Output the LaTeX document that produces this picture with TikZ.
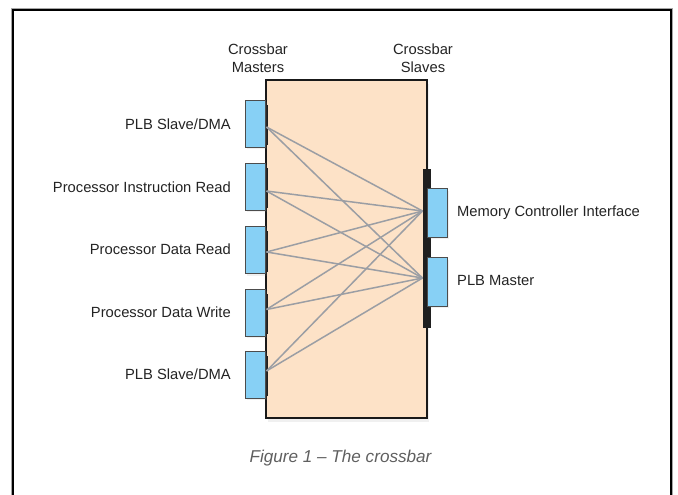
\documentclass[tikz,border=0pt]{standalone}
\usepackage{fontspec}
\setmainfont{Liberation Sans}
\usetikzlibrary{shadows}
\definecolor{peach}{RGB}{253,226,199}
\definecolor{portblue}{RGB}{135,208,245}
\definecolor{wire}{RGB}{155,158,164}
\definecolor{labelgray}{RGB}{35,35,35}
\definecolor{captiongray}{RGB}{95,95,95}
\begin{document}
\begin{tikzpicture}[x=1bp,y=-1bp,
  lbl/.style={font=\fontsize{14.8}{18}\selectfont, text=labelgray, inner sep=0pt},
  port/.style={draw=black!70, line width=1bp, fill=portblue, minimum width=20bp,
    minimum height=47bp, inner sep=0pt,
    drop shadow={shadow xshift=1.5bp, shadow yshift=-2bp, opacity=0.12}},
  xbarbox/.style={draw=black!90, line width=2.2bp, fill=peach, minimum width=161bp,
    minimum height=338bp, inner sep=0pt,
    drop shadow={shadow xshift=2bp, shadow yshift=-4bp, opacity=0.12}},
  edgebar/.style={fill=black!88, draw=none, inner sep=0pt},
  wirestyle/.style={draw=wire, line width=1.5bp}]
\useasboundingbox (0,0) rectangle (678,495);

% page frame, open at the bottom
\draw[black!35, line width=1bp] (11.5,495) -- (11.5,8.8) -- (672.5,8.8) -- (672.5,495);
\draw[black, line width=2bp] (13,495) -- (13,10.2) -- (671,10.2) -- (671,495);

% crossbar body
\node[xbarbox] (xbar) at (346.5,249) {};

% heavy edge segments next to the ports
\node[edgebar, minimum width=8bp, minimum height=159bp] (sbar) at (427,248.5) {};
\foreach \i/\cy in {1/124, 2/187, 3/250, 4/312.5, 5/374.5}
  \node[edgebar, minimum width=3.4bp, minimum height=40bp] (mbar\i) at (266,\cy+1.5) {};

% master ports
\node[port] (m1) at (255,124) {};
\node[port] (m2) at (255,187) {};
\node[port] (m3) at (255,250) {};
\node[port] (m4) at (255,312.5) {};
\node[port] (m5) at (255,374.5) {};

% slave ports
\node[port, minimum height=48bp] (s1) at (437,213) {};
\node[port, minimum height=48bp] (s2) at (437,282) {};

% crossbar wiring: every master to every slave
\coordinate (t1) at ([xshift=-4bp,yshift=2bp]s1.west);
\coordinate (t2) at ([xshift=-4bp,yshift=4bp]s2.west);
\foreach \m/\dy in {m1/-3, m2/-4, m3/-2, m4/3, m5/3.5} {
  \draw[wirestyle] ([xshift=1bp,yshift=\dy bp]\m.east) -- (t1);
  \draw[wirestyle] ([xshift=1bp,yshift=\dy bp]\m.east) -- (t2);
}

% column headings
\node[lbl, align=center] (hm) at (258,58) {Crossbar\\Masters};
\node[lbl, align=center] (hs) at (423,58) {Crossbar\\Slaves};

% port labels
\node[lbl, anchor=east] (lm1) at (231,124) {PLB Slave/DMA};
\node[lbl, anchor=east] (lm2) at (231,187) {Processor Instruction Read};
\node[lbl, anchor=east] (lm3) at (231,249) {Processor Data Read};
\node[lbl, anchor=east] (lm4) at (231,312) {Processor Data Write};
\node[lbl, anchor=east] (lm5) at (231,374) {PLB Slave/DMA};
\node[lbl, anchor=west] (ls1) at (457,213) {Memory Controller Interface};
\node[lbl, anchor=west] (ls2) at (457,280) {PLB Master};

% caption
\node[inner sep=0pt, anchor=base, text=captiongray,
  font=\fontsize{17.2}{20}\selectfont\itshape] (cap) at (340.5,462) {Figure 1 – The crossbar};
\end{tikzpicture}
\end{document}
